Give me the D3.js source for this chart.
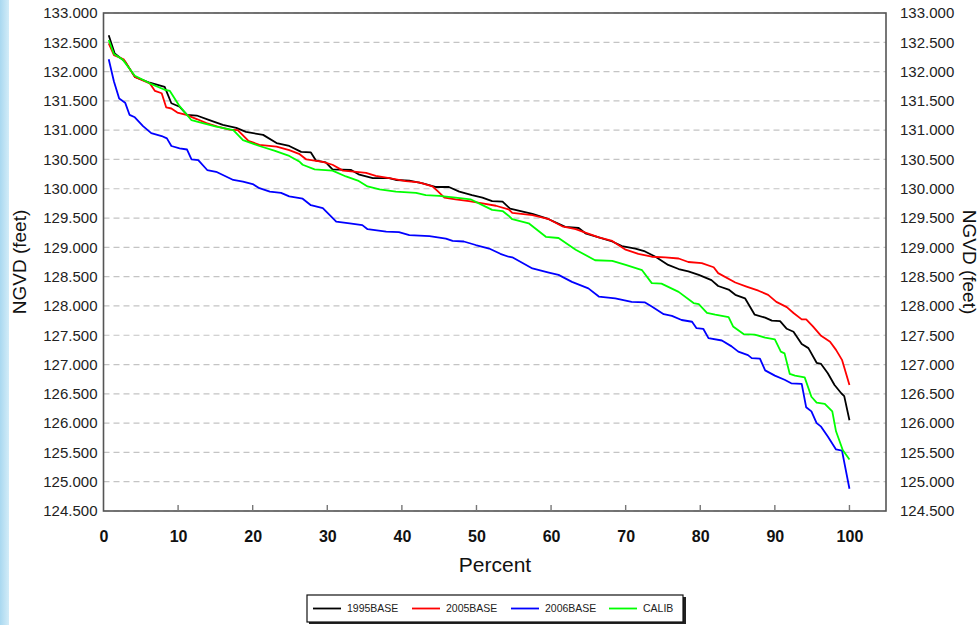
<!DOCTYPE html>
<html>
<head>
<meta charset="utf-8">
<script src="https://cdn.jsdelivr.net/npm/d3@7"></script>
<style>
  body { margin: 0; background: #fff; }
  svg { display: block; font-family: "Liberation Sans", Arial, sans-serif; }
</style>
</head>
<body>
<svg id="chart" width="980" height="625"></svg>
<script>
// series: [percent exceeded, stage in ft NGVD]
var base1995 = [[0.7,132.62],[1.5,132.31],[2.9,132.17],[4.2,131.91],[6.2,131.81],[8.2,131.74],[9.1,131.46],[10.2,131.40],[11.2,131.26],[12.5,131.25],[14.2,131.17],[16,131.09],[17.8,131.04],[19.1,130.97],[21.4,130.92],[23.2,130.78],[24.9,130.73],[26.5,130.63],[27.8,130.62],[28.5,130.48],[29.8,130.45],[30.7,130.33],[33.2,130.32],[34.3,130.24],[36.1,130.18],[38.3,130.18],[39.2,130.15],[41,130.14],[42.8,130.09],[44.6,130.03],[46.3,130.03],[47.7,129.95],[49.4,129.89],[50.8,129.85],[52.1,129.79],[53.5,129.78],[54.5,129.66],[57.5,129.57],[59.7,129.48],[61.9,129.35],[63.7,129.33],[64.6,129.24],[66.4,129.17],[68.2,129.10],[69.5,129.02],[71.3,128.98],[72.6,128.93],[74,128.84],[75.7,128.70],[77.1,128.63],[78.4,128.59],[79.8,128.53],[81.5,128.44],[82.4,128.34],[83.8,128.28],[84.7,128.19],[86,128.13],[87.3,127.85],[88.7,127.80],[89.6,127.75],[90.7,127.74],[91.6,127.61],[92.5,127.56],[93.6,127.35],[94.5,127.28],[95.6,127.03],[96.2,127.01],[97.1,126.85],[98,126.65],[98.9,126.51],[99.3,126.46],[100,126.05]];

var base2005 = [[0.7,132.48],[1.4,132.28],[2.7,132.21],[4.2,131.91],[6.2,131.80],[6.9,131.67],[7.8,131.63],[8.4,131.39],[9.1,131.37],[9.9,131.30],[11.1,131.26],[12.5,131.19],[13.8,131.12],[15.6,131.05],[16.9,131.01],[18,131.00],[19.4,130.82],[20.9,130.75],[23.2,130.72],[24.9,130.66],[26.3,130.59],[27.2,130.50],[29.4,130.46],[30.7,130.41],[32.1,130.31],[33.9,130.29],[35.2,130.27],[36.5,130.22],[38.3,130.18],[40.5,130.13],[42.3,130.11],[44.1,130.04],[44.8,129.96],[45.7,129.85],[47.2,129.82],[49,129.79],[50.8,129.75],[52.6,129.71],[54.3,129.65],[54.8,129.59],[57.5,129.55],[59.7,129.48],[61.5,129.36],[63.3,129.31],[64.6,129.25],[66.4,129.17],[68.2,129.11],[70,128.96],[71.7,128.89],[73.5,128.84],[75.3,128.83],[77.1,128.81],[78.4,128.75],[80.2,128.73],[81.8,128.66],[82.4,128.56],[84.7,128.40],[86.2,128.33],[87.8,128.26],[89.1,128.19],[90.2,128.07],[91.6,127.98],[92.5,127.88],[93.6,127.77],[94.2,127.77],[95.1,127.65],[96.2,127.49],[97.4,127.39],[98.2,127.25],[99,127.08],[100,126.65]];

var base2006 = [[0.7,132.21],[1.4,131.83],[2.1,131.54],[2.9,131.47],[3.5,131.26],[4.2,131.22],[5.3,131.07],[6.4,130.95],[7.8,130.90],[8.5,130.86],[9.1,130.73],[10.2,130.69],[11.2,130.67],[11.8,130.50],[12.7,130.49],[13.9,130.32],[15.1,130.29],[17.4,130.15],[18.7,130.12],[20,130.08],[20.9,130.01],[22.3,129.95],[23.8,129.93],[24.9,129.87],[26.7,129.83],[27.8,129.72],[29.4,129.67],[31.2,129.44],[33,129.41],[34.7,129.38],[35.4,129.31],[37.9,129.27],[39.6,129.26],[41,129.21],[43.7,129.19],[45.9,129.15],[46.8,129.11],[48.3,129.10],[49.9,129.04],[51.7,128.98],[53.2,128.89],[54.3,128.84],[54.8,128.83],[57.5,128.64],[59.7,128.57],[61,128.53],[62.8,128.41],[65,128.30],[66.4,128.16],[68.6,128.13],[70.8,128.07],[72.6,128.06],[73.5,127.99],[75.1,127.86],[76.2,127.83],[77.5,127.76],[78.9,127.73],[79.5,127.62],[80.4,127.61],[81.1,127.45],[82.9,127.41],[84.2,127.31],[85.1,127.22],[86.4,127.16],[86.9,127.11],[88,127.10],[88.7,126.90],[90,126.81],[91.3,126.74],[92.2,126.68],[93.6,126.67],[94.2,126.27],[94.9,126.20],[95.6,126.00],[96.2,125.94],[97.1,125.77],[98.2,125.55],[99,125.53],[100,124.88]];

var calib = [[0.7,132.54],[1.4,132.30],[2.6,132.20],[4.2,131.93],[6.2,131.80],[8.2,131.69],[8.9,131.67],[10.2,131.41],[11.8,131.17],[13.3,131.12],[15.1,131.06],[17.4,131.00],[18.7,130.83],[20.9,130.73],[22.9,130.65],[24.9,130.56],[26.3,130.46],[26.7,130.41],[28.3,130.33],[30.7,130.31],[32.5,130.21],[34.1,130.14],[35.4,130.04],[37,129.99],[39.2,129.95],[41.9,129.93],[43.2,129.89],[45,129.88],[47.2,129.85],[49.2,129.82],[50.8,129.72],[52.1,129.64],[53.5,129.62],[54.3,129.54],[54.8,129.48],[57,129.41],[59.3,129.18],[61,129.16],[63.3,128.96],[65.9,128.78],[68.2,128.77],[70,128.70],[72.2,128.61],[73.5,128.39],[74.8,128.38],[77.1,128.24],[79.1,128.05],[79.8,128.03],[80.9,127.88],[82,127.85],[83.8,127.81],[84.4,127.65],[85.8,127.52],[87.3,127.51],[88.7,127.46],[90,127.43],[90.8,127.22],[91.3,127.19],[92,126.84],[92.7,126.81],[94,126.78],[94.9,126.45],[95.6,126.35],[96.7,126.33],[97.7,126.20],[98.2,125.86],[99.1,125.54],[100,125.38]];

var seriesNames = ["1995BASE", "2005BASE", "2006BASE", "CALIB"];
var seriesColors = ["#000000", "#ff0000", "#0000ff", "#00ff00"];
var seriesData = [base1995, base2005, base2006, calib];

var xTicks = [0, 10, 20, 30, 40, 50, 60, 70, 80, 90, 100];
var yTicks = [124.5, 125, 125.5, 126, 126.5, 127, 127.5, 128, 128.5, 129, 129.5, 130, 130.5, 131, 131.5, 132, 132.5, 133];

var svg = d3.select("#chart");

// light blue page edge on the left
var defs = svg.append("defs");
var bg = defs.append("linearGradient").attr("id", "edge")
  .attr("x1", "0%").attr("x2", "100%").attr("y1", "0%").attr("y2", "0%");
bg.append("stop").attr("offset", "0%").style("stop-color", "#a9d8f0");
bg.append("stop").attr("offset", "100%").style("stop-color", "#d3ecf8");
svg.append("rect").attr("x", 0).attr("y", 0).attr("width", 9).attr("height", 625)
  .style("fill", "url(#edge)");

var pLeft = 103.5, pRight = 886, pTop = 13, pBottom = 511;

var x = d3.scaleLinear().domain([0, 104.9]).range([pLeft, pRight]);
var y = d3.scaleLinear().domain([124.5, 133]).range([pBottom, pTop]);

var g = svg.append("g");

// dashed grid
g.selectAll(".grid").data(yTicks).enter()
  .append("line")
  .attr("class", "grid")
  .attr("x1", pLeft).attr("x2", pRight)
  .attr("y1", d => y(d)).attr("y2", d => y(d))
  .style("stroke", "#c4c4c4")
  .style("stroke-width", 1.2)
  .style("stroke-dasharray", "6,4");

// lines
var line = d3.line().x(d => x(d[0])).y(d => y(d[1]));
g.selectAll(".series").data(seriesData).enter()
  .append("path")
  .attr("class", "series")
  .attr("d", d => line(d))
  .style("fill", "none")
  .style("stroke", (d, i) => seriesColors[i])
  .style("stroke-width", 1.8)
  .style("stroke-linejoin", "round");

// frame
g.append("rect")
  .attr("x", pLeft).attr("y", pTop)
  .attr("width", pRight - pLeft).attr("height", pBottom - pTop)
  .style("fill", "none")
  .style("stroke", "#555")
  .style("stroke-width", 1.6);

// x axis (ticks point inward)
var xAxis = d3.axisBottom(x).tickValues(xTicks).tickSize(0).tickPadding(20);
var xg = g.append("g").attr("transform", `translate(0,${pBottom})`).call(xAxis);
xg.select(".domain").remove();
xg.selectAll("text")
  .style("font-size", "16px")
  .style("font-weight", 700)
  .style("fill", "#111")
  .style("font-family", "'Liberation Sans', Arial, sans-serif");
g.selectAll(".xtick").data(xTicks.slice(1)).enter()
  .append("line")
  .attr("x1", d => x(d)).attr("x2", d => x(d))
  .attr("y1", pBottom).attr("y2", pBottom - 6)
  .style("stroke", "#777")
  .style("stroke-width", 1.4);

// y axes, both sides
var fmt = d3.format(".3f");
var yl = g.append("g").attr("transform", `translate(${pLeft},0)`)
  .call(d3.axisLeft(y).tickValues(yTicks).tickSize(0).tickPadding(6).tickFormat(fmt));
var yr = g.append("g").attr("transform", `translate(${pRight},0)`)
  .call(d3.axisRight(y).tickValues(yTicks).tickSize(0).tickPadding(14).tickFormat(fmt));
[yl, yr].forEach(a => {
  a.select(".domain").remove();
  a.selectAll("text")
    .style("font-size", "15px")
    .style("fill", "#222")
    .style("font-family", "'Liberation Sans', Arial, sans-serif");
});

// axis titles
svg.append("text")
  .attr("transform", "translate(26,262) rotate(-90)")
  .attr("text-anchor", "middle")
  .style("font-size", "19px")
  .style("fill", "#111")
  .text("NGVD (feet)");
svg.append("text")
  .attr("transform", "translate(963,262) rotate(90)")
  .attr("text-anchor", "middle")
  .style("font-size", "19px")
  .style("fill", "#111")
  .text("NGVD (feet)");
svg.append("text")
  .attr("x", 495).attr("y", 572)
  .attr("text-anchor", "middle")
  .style("font-size", "21px")
  .style("fill", "#111")
  .text("Percent");

// legend
var lg = svg.append("g").attr("transform", "translate(307,595)");
lg.append("rect").attr("x", 2).attr("y", 2).attr("width", 377).attr("height", 27).style("fill", "#222");
lg.append("rect").attr("width", 376).attr("height", 27)
  .style("fill", "#fff").style("stroke", "#111").style("stroke-width", 1.2);
var itemX = [6, 105, 204, 302];
var items = lg.selectAll(".item").data(seriesNames).enter()
  .append("g").attr("class", "item")
  .attr("transform", (d, i) => `translate(${itemX[i]},13.5)`);
items.append("line")
  .attr("x1", 0).attr("x2", 28).attr("y1", 0).attr("y2", 0)
  .style("stroke", (d, i) => seriesColors[i])
  .style("stroke-width", 1.8);
items.append("text")
  .attr("x", 34).attr("dy", "0.35em")
  .style("font-size", "10.5px")
  .style("fill", "#222")
  .text(d => d);
</script>
</body>
</html>
